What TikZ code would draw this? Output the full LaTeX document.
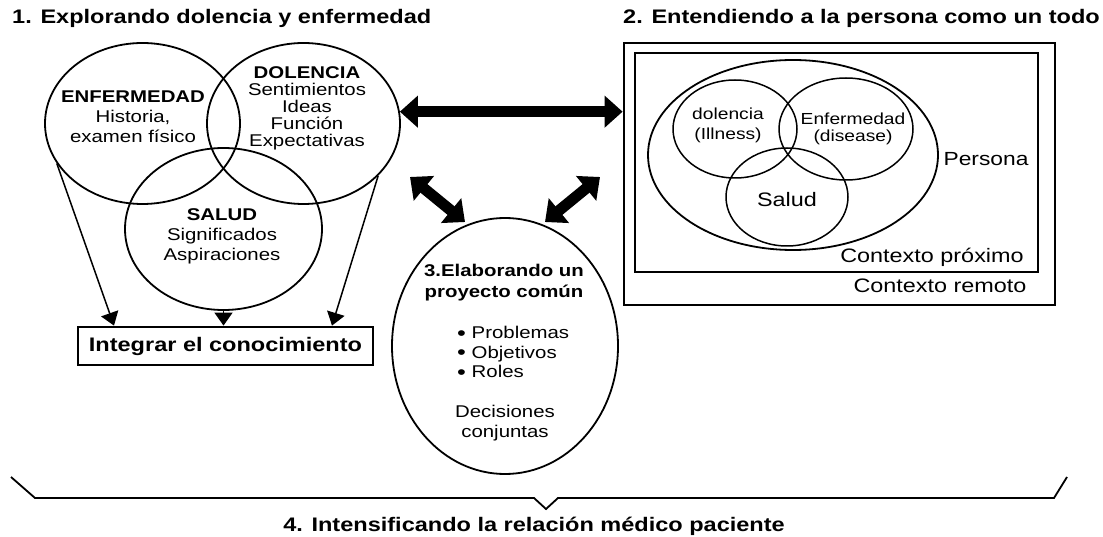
\documentclass[tikz,border=0pt]{standalone}
\usepackage{fontspec}
\setmainfont{Liberation Sans}[FakeStretch=1.2]
\usetikzlibrary{arrows.meta,shapes.geometric,calc}
\tikzset{
  circ/.style={draw, ellipse, inner sep=0pt, line width=1.8pt},
  smallc/.style={draw, ellipse, inner sep=0pt, line width=1.5pt},
  txt/.style={inner sep=0pt, align=center},
  ttl/.style={inner sep=0pt, font=\bfseries\fontsize{19.6}{22}\selectfont},
  thinarrow/.style={line width=1.5pt, -{Triangle[width=18pt,length=13pt]}},
  bigarrow/.style={line width=11pt, {Triangle[width=31pt,length=18pt]}-{Triangle[width=31pt,length=18pt]}},
  frame/.style={draw, line width=2.8pt, inner sep=0pt},
}
\newcommand{\bul}{{\fontsize{21}{19.5}\selectfont\smash{\raisebox{-1.6pt}{\textbullet}}}}
\begin{document}
\begin{tikzpicture}[x=1pt,y=-1pt]
\useasboundingbox (0,0) rectangle (1103,537);

% titles
\node[ttl, anchor=west] (t1) at (12,18) {1. Explorando dolencia y enfermedad};
\node[ttl, anchor=west] (t2) at (623,18) {2. Entendiendo a la persona como un todo};
\node[ttl] (t4) at (534,526) {4. Intensificando la relación médico paciente};

% left venn
\node[circ, minimum width=195pt, minimum height=161pt] (enf) at (142.5,123.5) {};
\node[circ, minimum width=193pt, minimum height=161pt] (dol) at (303.5,123.5) {};
\node[circ, minimum width=197pt, minimum height=162pt] (sal) at (223.5,229) {};

\node[txt, font=\fontsize{17}{20}\selectfont] (enft) at (133,117) {\textbf{ENFERMEDAD}\\Historia,\\examen físico};
\node[txt, font=\fontsize{17}{17}\selectfont] (dolt) at (307,108) {\textbf{DOLENCIA}\\Sentimientos\\Ideas\\Función\\Expectativas};
\node[txt, font=\fontsize{17}{20}\selectfont] (salt) at (222,236) {\textbf{SALUD}\\Significados\\Aspiraciones};

\node[frame, minimum width=295pt, minimum height=38pt, font=\bfseries\fontsize{19.6}{22}\selectfont] (integ) at (225.5,346) {Integrar el conocimiento};

\draw[thinarrow] (enf.205) -- ($(integ.north)+(-111.5,0)$);
\draw[thinarrow] (sal.south) -- (sal.south |- integ.north);
\draw[thinarrow] (dol.325) -- ($(integ.north)+(106.5,0)$);

% right panel
\node[frame, minimum width=431pt, minimum height=262pt] (outer) at (839.5,174) {};
\node[frame, minimum width=403pt, minimum height=219pt] (inner) at (836.5,162.5) {};
\node[circ, minimum width=290pt, minimum height=190pt] (pers) at (793,155) {};
\node[smallc, minimum width=124pt, minimum height=98pt] (rdol) at (735,129) {};
\node[smallc, minimum width=134pt, minimum height=102pt] (renf) at (846,129) {};
\node[smallc, minimum width=122pt, minimum height=98pt] (rsal) at (787,197) {};

\node[txt, font=\fontsize{16}{20}\selectfont] (rdolt) at (728,125) {dolencia\\(Illness)};
\node[txt, font=\fontsize{16}{17}\selectfont] (renft) at (853,129) {Enfermedad\\(disease)};
\node[txt, font=\fontsize{19.5}{22}\selectfont] (rsalt) at (787,200) {Salud};
\node[txt, font=\fontsize{19}{22}\selectfont] (perst) at (986,159) {Persona};
\node[txt, font=\fontsize{19.5}{22}\selectfont] (cprox) at (932,257) {Contexto próximo};
\node[txt, font=\fontsize{19.5}{22}\selectfont] (crem) at (940,286) {Contexto remoto};

% big arrows
\draw[bigarrow] (dol.7) -- (dol.7 -| outer.west);
\coordinate (dla) at (410,177);
\coordinate (dlb) at (465,222);
\coordinate (dra) at (600,177);
\coordinate (drb) at (545,222);
\draw[bigarrow] (dla) -- (dlb);
\draw[bigarrow] (dra) -- (drb);

% project ellipse
\node[circ, minimum width=226pt, minimum height=256pt] (proj) at (505,346) {};
\node[txt, font=\bfseries\fontsize{17}{21}\selectfont] (projt) at (504,283) {3.Elaborando un\\proyecto común};
\node[txt, align=left, anchor=west, font=\fontsize{17}{19.5}\selectfont] (bullist) at (457,352) {\bul\ Problemas\\\bul\ Objetivos\\\bul\ Roles};
\node[txt, font=\fontsize{17}{20}\selectfont] (dec) at (505,423) {Decisiones\\conjuntas};

% brace
\draw[line width=1.8pt] (11,477) -- (35,498) -- (534,498) -- (546,509) -- (558,498) -- (1054,498) -- (1067,477);
\end{tikzpicture}
\end{document}
